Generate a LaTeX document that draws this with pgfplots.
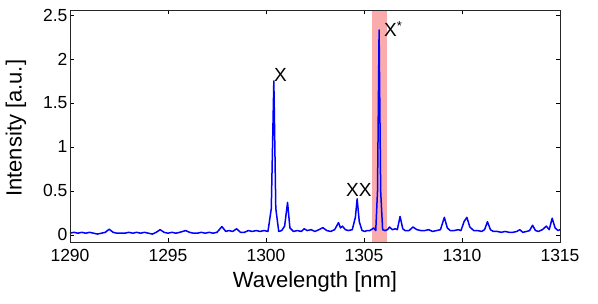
\documentclass[border=0pt]{standalone}
\usepackage{fontspec}
\setmainfont{Liberation Sans}
\usepackage{pgfplots}
\pgfplotsset{compat=1.18}
\definecolor{band}{RGB}{250,172,172}
\begin{document}
\begin{tikzpicture}
\path[use as bounding box] (-70pt,-62pt) rectangle (528pt,242pt);
\begin{axis}[
  at={(0pt,0pt)}, anchor=south west,
  scale only axis, width=490pt, height=232pt,
  xmin=1290, xmax=1315, ymin=-0.08, ymax=2.557,
  xtick={1290,1295,...,1315}, ytick={0,0.5,1,1.5,2,2.5},
  yticklabels={0,0.5,1,1.5,2,2.5},
  xticklabel style={/pgf/number format/1000 sep={}, yshift=-4pt},
  yticklabel style={xshift=1pt},
  /pgf/number format/assume math mode=true,
  tick align=inside, major tick length=4pt,
  tick style={black, line width=0.6pt},
  axis line style={line width=0.7pt, black!85},
  ticklabel style={font=\fontsize{17.5}{20}\selectfont},
  xlabel={Wavelength [nm]}, ylabel={Intensity [a.u.]},
  every axis x label/.style={at={(axis description cs:0.5,0)}, yshift=-46pt, anchor=base, font=\fontsize{22}{26}\selectfont},
  every axis y label/.style={at={(axis description cs:-0.1102,0.49)}, rotate=90, anchor=center, font=\fontsize{22}{26}\selectfont},
  axis on top,
  clip=true,
]
\fill[band] (axis cs:1305.43,-0.08) rectangle (axis cs:1306.17,2.557);
\addplot[blue, line width=1.5pt, no marks, line join=round] coordinates {
(1290.0,0.02) (1290.2,0.03) (1290.4,0.02) (1290.6,0.03) (1290.8,0.02) (1291.0,0.03) (1291.2,0.02) (1291.4,0.01) (1291.6,0.02) (1291.8,0.03) (1292.0,0.065) (1292.2,0.03) (1292.4,0.02) (1292.6,0.02) (1292.8,0.02) (1293.0,0.03) (1293.2,0.02) (1293.4,0.03) (1293.6,0.02) (1293.8,0.03) (1294.0,0.02) (1294.2,0.01) (1294.4,0.03) (1294.6,0.06) (1294.8,0.03) (1295.0,0.02) (1295.2,0.03) (1295.4,0.02) (1295.6,0.03) (1295.9,0.05) (1296.1,0.03) (1296.3,0.02) (1296.5,0.02) (1296.7,0.03) (1296.9,0.02) (1297.1,0.03) (1297.3,0.02) (1297.5,0.03) (1297.75,0.095) (1297.95,0.04) (1298.1,0.05) (1298.3,0.04) (1298.5,0.07) (1298.7,0.03) (1298.9,0.03) (1299.1,0.05) (1299.3,0.04) (1299.5,0.05) (1299.7,0.04) (1299.9,0.05) (1300.1,0.04) (1300.27,0.3) (1300.4,1.75) (1300.5,0.3) (1300.65,0.04) (1300.8,0.05) (1300.95,0.1) (1301.1,0.37) (1301.22,0.08) (1301.4,0.04) (1301.6,0.05) (1301.8,0.04) (1301.95,0.07) (1302.1,0.05) (1302.3,0.06) (1302.5,0.04) (1302.7,0.06) (1302.9,0.083) (1303.1,0.05) (1303.3,0.04) (1303.5,0.06) (1303.7,0.14) (1303.8,0.08) (1303.9,0.1) (1304.05,0.06) (1304.2,0.05) (1304.4,0.06) (1304.56,0.2) (1304.65,0.41) (1304.76,0.15) (1304.9,0.05) (1305.05,0.04) (1305.15,0.05) (1305.3,0.05) (1305.5,0.08) (1305.6,0.05) (1305.69,0.5) (1305.77,2.33) (1305.85,0.5) (1305.95,0.06) (1306.07,0.05) (1306.2,0.06) (1306.3,0.09) (1306.45,0.06) (1306.6,0.07) (1306.7,0.06) (1306.84,0.21) (1306.98,0.07) (1307.1,0.05) (1307.3,0.05) (1307.5,0.09) (1307.7,0.06) (1307.9,0.05) (1308.1,0.05) (1308.3,0.06) (1308.5,0.04) (1308.7,0.05) (1308.9,0.06) (1309.1,0.2) (1309.25,0.08) (1309.4,0.05) (1309.6,0.05) (1309.8,0.06) (1309.95,0.05) (1310.1,0.15) (1310.25,0.2) (1310.4,0.09) (1310.6,0.05) (1310.8,0.05) (1311.0,0.04) (1311.15,0.06) (1311.3,0.15) (1311.45,0.06) (1311.6,0.04) (1311.8,0.04) (1312.0,0.03) (1312.2,0.04) (1312.4,0.03) (1312.6,0.03) (1312.8,0.04) (1312.95,0.06) (1313.1,0.03) (1313.3,0.04) (1313.45,0.05) (1313.6,0.11) (1313.75,0.05) (1313.9,0.04) (1314.1,0.06) (1314.3,0.1) (1314.45,0.06) (1314.6,0.19) (1314.75,0.08) (1314.9,0.05) (1315.0,0.06)
};
\node[font=\fontsize{19}{22}\selectfont, anchor=base west, inner sep=0pt] at (axis cs:1300.41,1.74) {X};
\node[font=\fontsize{19}{22}\selectfont, anchor=base, inner sep=0pt] at (axis cs:1304.74,0.435) {XX};
\node[font=\fontsize{19}{22}\selectfont, anchor=base west, inner sep=0pt] at (axis cs:1306.02,2.253) {X\raisebox{0.32em}{\fontsize{13}{14}\selectfont *}};
\end{axis}
\end{tikzpicture}
\end{document}
